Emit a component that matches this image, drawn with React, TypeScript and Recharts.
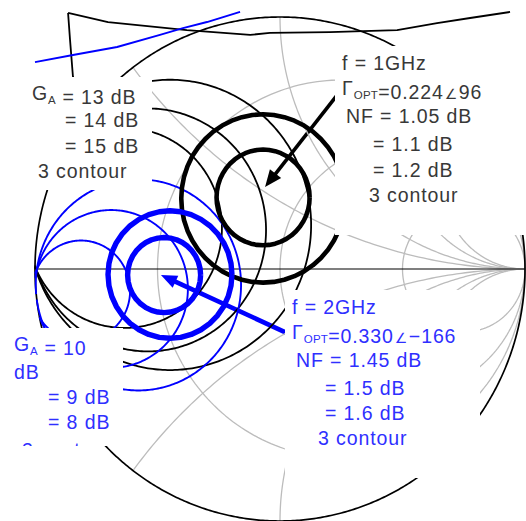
import React from 'react';
import { ScatterChart, Scatter, XAxis, YAxis, ReferenceLine } from 'recharts';

// Smith chart grid (normalised r and x values)
const resistanceValues = [1 / 3, 1, 3];
const reactanceValues = [0.5, 1, 2, 3, -0.5, -1, -2, -3];

// f = 1GHz, available gain circles (dB) in the Gamma plane
const ga1Levels = [13, 14, 15];
const ga1Re = [-0.449, -0.539, -0.634];
const ga1Im = [0.175, 0.155, 0.163];
const ga1Radius = [0.576, 0.482, 0.397];

// f = 1GHz, noise figure circles (dB)
const nf1Levels = [1.1, 1.2];
const nf1Re = [-0.069, -0.069];
const nf1Im = [0.284, 0.28];
const nf1Radius = [0.19, 0.334];

// f = 2GHz, available gain circles (dB)
const ga2Levels = [10, 9, 8];
const ga2Re = [-0.812, -0.689, -0.578];
const ga2Im = [-0.087, -0.079, -0.063];
const ga2Radius = [0.2, 0.313, 0.419];

// f = 2GHz, noise figure circles (dB)
const nf2Levels = [1.5, 1.6];
const nf2Re = [-0.473, -0.449];
const nf2Im = [-0.024, -0.022];
const nf2Radius = [0.149, 0.253];

// arrows to Gamma_opt (tail, tip)
const arrow1Re = [0.265, -0.061];
const arrow1Im = [0.73, 0.325];
const arrow2Re = [0.082, -0.486];
const arrow2Im = [-0.278, -0.024];

// contour pieces that run outside the chart at the top
const topBlackRe = [-0.865, -0.702, -0.38, -0.122, -0.041, 0.204, 0.339, 0.478, 0.641, 0.776, 0.939];
const topBlackIm = [1.016, 0.98, 0.948, 0.929, 0.937, 0.94, 0.944, 0.948, 0.976, 0.996, 1.02];
const topStubRe = [-0.865, -0.857, -0.845, -0.833];
const topStubIm = [1.016, 0.909, 0.762, 0.671];
const topBlueRe = [-1.0, -0.845, -0.665, -0.49, -0.396, -0.298, -0.163];
const topBlueIm = [0.821, 0.849, 0.881, 0.929, 0.956, 0.98, 1.02];

type Pt = { x: number; y: number };

const BLUE = '#0000ff';
const BLUE_TEXT = '#2f2fff';
const GREY = '#bcbcbc';
const TEXT = '#383838';

const zip = (re: number[], im: number[]): Pt[] => re.map((x, i) => ({ x, y: im[i] }));

const circle = (cx: number, cy: number, r: number, n = 240): Pt[] => {
  const pts: Pt[] = [];
  for (let i = 0; i <= n; i++) {
    const a = (2 * Math.PI * i) / n;
    pts.push({ x: cx + r * Math.cos(a), y: cy + r * Math.sin(a) });
  }
  return pts;
};

const inDisk = (p: Pt) => p.x * p.x + p.y * p.y <= 1.0008;

// keep only the parts of a closed curve that lie inside |Gamma| <= 1
const clipToDisk = (pts: Pt[]): Pt[][] => {
  const runs: Pt[][] = [];
  let cur: Pt[] = [];
  pts.forEach((p) => {
    if (inDisk(p)) cur.push(p);
    else {
      if (cur.length > 1) runs.push(cur);
      cur = [];
    }
  });
  if (cur.length > 1) runs.push(cur);
  if (runs.length > 1 && inDisk(pts[0]) && inDisk(pts[pts.length - 1])) {
    const last = runs.pop() as Pt[];
    runs[0] = [...last, ...runs[0]];
  }
  return runs;
};

const noDot = () => <g />;

const curve = (key: string, data: Pt[], color: string, width: number) => (
  <Scatter
    key={key}
    data={data}
    fill="none"
    stroke={color}
    line={{ stroke: color, strokeWidth: width, strokeLinejoin: 'round', fill: 'none' }}
    lineJointType="linear"
    shape={noDot}
    isAnimationActive={false}
  />
);

const arrowShape = (color: string, width: number, head: number) => (props: any) => {
  const { x1, y1, x2, y2 } = props;
  const dx = x2 - x1;
  const dy = y2 - y1;
  const len = Math.hypot(dx, dy) || 1;
  const ux = dx / len;
  const uy = dy / len;
  const bx = x2 - ux * head;
  const by = y2 - uy * head;
  const hw = head * 0.42;
  return (
    <g>
      <line x1={x1} y1={y1} x2={bx + ux * 2} y2={by + uy * 2} stroke={color} strokeWidth={width} />
      <polygon
        points={`${x2},${y2} ${bx - uy * hw},${by + ux * hw} ${bx + uy * hw},${by - ux * hw}`}
        fill={color}
      />
    </g>
  );
};

const W = 526;
const H = 521;

const font = "'Liberation Sans', Arial, 'DejaVu Sans', sans-serif";

const Line = ({ x, y, fill, children }: { x: number; y: number; fill: string; children: React.ReactNode }) => (
  <text x={x} y={y} fill={fill} fontSize={19.5} letterSpacing={0.9} fontFamily={font}>
    {children}
  </text>
);

const Sub = ({ children }: { children: React.ReactNode }) => (
  <>
    <tspan fontSize={11.5} dy={4} letterSpacing={0.3}>
      {children}
    </tspan>
    <tspan dy={-4}>{''}</tspan>
  </>
);

const Angle = () => (
  <tspan fontSize={14} dx={1} letterSpacing={1.5} fontFamily="'DejaVu Sans', sans-serif">
    ∠
  </tspan>
);

export default function App() {
  const grid: React.ReactNode[] = [];
  resistanceValues.forEach((r, i) => {
    grid.push(curve(`r${i}`, circle(r / (1 + r), 0, 1 / (1 + r)), GREY, 1.3));
  });
  reactanceValues.forEach((xv, i) => {
    clipToDisk(circle(1, 1 / xv, 1 / Math.abs(xv), 720)).forEach((seg, j) => {
      grid.push(curve(`x${i}-${j}`, seg, GREY, 1.3));
    });
  });

  const contours: React.ReactNode[] = [];
  ga1Levels.forEach((lvl, i) => {
    clipToDisk(circle(ga1Re[i], ga1Im[i], ga1Radius[i], 360)).forEach((seg, j) => {
      contours.push(curve(`ga1-${lvl}-${j}`, seg, '#000', 1.8));
    });
  });
  ga2Levels.forEach((lvl, i) => {
    clipToDisk(circle(ga2Re[i], ga2Im[i], ga2Radius[i], 360)).forEach((seg, j) => {
      contours.push(curve(`ga2-${lvl}-${j}`, seg, BLUE, 1.9));
    });
  });
  nf1Levels.forEach((lvl, i) => {
    contours.push(curve(`nf1-${lvl}`, circle(nf1Re[i], nf1Im[i], nf1Radius[i], 48), '#000', 4.6));
  });
  nf2Levels.forEach((lvl, i) => {
    contours.push(curve(`nf2-${lvl}`, circle(nf2Re[i], nf2Im[i], nf2Radius[i], 36), BLUE, 5.4));
  });

  return (
    <div style={{ position: 'absolute', left: 0, top: 0, width: W, height: H, background: '#fff' }}>
      <ScatterChart width={W} height={H} margin={{ top: 0, right: 0, bottom: 0, left: 0 }}>
        <XAxis type="number" dataKey="x" domain={[-280 / 245, 246 / 245]} allowDataOverflow hide />
        <YAxis type="number" dataKey="y" domain={[-1, 269 / 252]} allowDataOverflow hide />
        {grid}
        {curve('outer', circle(0, 0, 1, 720), '#000', 1.7)}
        {curve('axis', [{ x: -1, y: 0 }, { x: 1, y: 0 }], '#000', 1.2)}
        {curve('topBlack', zip(topBlackRe, topBlackIm), '#000', 1.8)}
        {curve('topStub', zip(topStubRe, topStubIm), '#000', 1.8)}
        {curve('topBlue', zip(topBlueRe, topBlueIm), BLUE, 1.9)}
        {contours}
        <ReferenceLine
          segment={[
            { x: arrow1Re[0], y: arrow1Im[0] },
            { x: arrow1Re[1], y: arrow1Im[1] },
          ]}
          shape={arrowShape('#000', 3.6, 17)}
          ifOverflow="visible"
        />
        <ReferenceLine
          segment={[
            { x: arrow2Re[0], y: arrow2Im[0] },
            { x: arrow2Re[1], y: arrow2Im[1] },
          ]}
          shape={arrowShape(BLUE, 4.6, 16)}
          ifOverflow="visible"
        />
      </ScatterChart>
      <svg
        width={W}
        height={H}
        style={{ position: 'absolute', left: 0, top: 0, pointerEvents: 'none' }}
      >
        <defs>
          <clipPath id="gaBlueClip">
            <rect x={0} y={328} width={123} height={118} />
          </clipPath>
        </defs>
        <rect x={20} y={77} width={132} height={113} fill="#fff" />
        <rect x={335} y={46} width={191} height={189} fill="#fff" />
        <rect x={285} y={290} width={195} height={188} fill="#fff" />
        <rect x={0} y={328} width={123} height={118} fill="#fff" />

        <Line x={32} y={100} fill={TEXT}>
          G<Sub>A</Sub> = 13 dB
        </Line>
        <Line x={65} y={127} fill={TEXT}>= 14 dB</Line>
        <Line x={65} y={153} fill={TEXT}>= 15 dB</Line>
        <Line x={38} y={178} fill={TEXT}>3 contour</Line>

        <Line x={342} y={70} fill={TEXT}>f = 1GHz</Line>
        <Line x={342} y={95} fill={TEXT}>
          Γ<Sub>OPT</Sub>=0.224<Angle />96
        </Line>
        <Line x={346} y={123} fill={TEXT}>NF = 1.05 dB</Line>
        <Line x={373} y={151} fill={TEXT}>= 1.1 dB</Line>
        <Line x={373} y={177} fill={TEXT}>= 1.2 dB</Line>
        <Line x={369} y={202} fill={TEXT}>3 contour</Line>

        <Line x={292} y={314} fill={BLUE_TEXT}>f = 2GHz</Line>
        <Line x={292} y={339} fill={BLUE_TEXT}>
          Γ<Sub>OPT</Sub>=0.330<Angle />−166
        </Line>
        <Line x={296} y={367} fill={BLUE_TEXT}>NF = 1.45 dB</Line>
        <Line x={325} y={395} fill={BLUE_TEXT}>= 1.5 dB</Line>
        <Line x={325} y={420} fill={BLUE_TEXT}>= 1.6 dB</Line>
        <Line x={318} y={445} fill={BLUE_TEXT}>3 contour</Line>

        <Line x={14} y={351} fill={BLUE_TEXT}>
          G<Sub>A</Sub> = 10
        </Line>
        <Line x={14} y={379} fill={BLUE_TEXT}>dB</Line>
        <Line x={48} y={404} fill={BLUE_TEXT}>= 9 dB</Line>
        <Line x={48} y={429} fill={BLUE_TEXT}>= 8 dB</Line>
        <g clipPath="url(#gaBlueClip)">
          <Line x={22} y={457} fill={BLUE_TEXT}>3 contour</Line>
        </g>
      </svg>
    </div>
  );
}
